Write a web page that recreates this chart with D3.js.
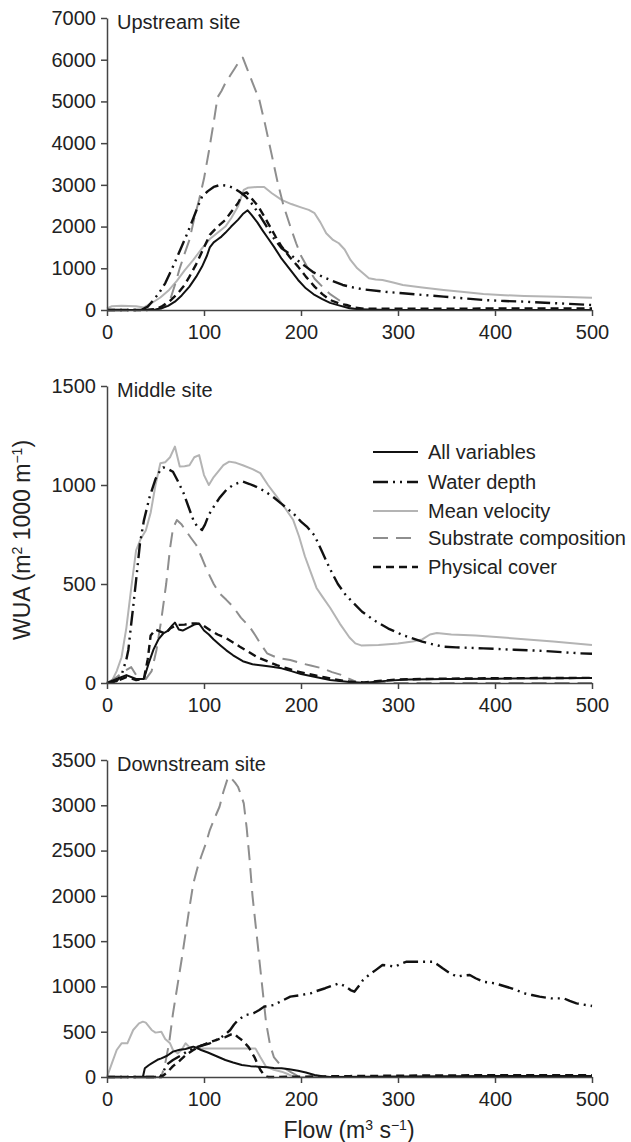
<!DOCTYPE html>
<html><head><meta charset="utf-8">
<script src="https://cdn.jsdelivr.net/npm/d3@7"></script>
<style>
body{margin:0;background:#fff}
svg text{font-family:"Liberation Sans",Arial,Helvetica,sans-serif;fill:#222}
</style>
</head><body><svg id="c" width="631" height="1142"></svg>
<script>
// ---------- tick labels / categories ----------
const flowTicks = [0,100,200,300,400,500];
const upTicks = [0,1000,2000,3000,4000,5000,6000,7000];
const midTicks = [0,500,1000,1500];
const downTicks = [0,500,1000,1500,2000,2500,3000,3500];
const seriesNames = ["All variables","Water depth","Mean velocity","Substrate composition","Physical cover"];
const panelTitles = ["Upstream site","Middle site","Downstream site"];

// ---------- Upstream site: [flow, WUA] ----------
const upAll = [[0,0],[40,0],[50,10],[56,40],[63,100],[70,200],[77,350],[85,560],[92,800],[98,1040],[103,1300],[106,1500],[110,1620],[114,1690],[118,1760],[122,1850],[128,2000],[135,2160],[140,2300],[145,2390],[149,2280],[155,2100],[160,1920],[166,1720],[172,1520],[180,1230],[189,960],[197,720],[205,520],[214,360],[222,260],[230,170],[239,110],[250,40],[260,15],[280,5],[300,0],[500,0]];
const upWater = [[0,0],[35,0],[42,80],[48,240],[54,420],[60,640],[68,1040],[77,1520],[83,1850],[89,2200],[94,2500],[98,2720],[104,2850],[110,2950],[117,3000],[124,2980],[131,2920],[137,2830],[143,2720],[150,2530],[156,2320],[164,2020],[172,1720],[180,1480],[189,1330],[197,1180],[205,1040],[213,900],[222,800],[232,700],[243,600],[254,540],[264,496],[285,440],[305,400],[326,360],[347,320],[368,280],[388,240],[410,215],[430,200],[465,160],[500,120]];
const upVel = [[0,40],[5,90],[15,100],[30,90],[38,60],[45,150],[55,300],[64,480],[72,700],[80,950],[89,1200],[97,1450],[106,1700],[114,1850],[122,2000],[128,2200],[135,2480],[141,2880],[145,2930],[155,2950],[162,2950],[170,2800],[180,2640],[190,2540],[200,2460],[208,2400],[214,2320],[220,2100],[226,1840],[233,1680],[239,1600],[245,1450],[251,1200],[258,1000],[264,880],[270,760],[277,730],[284,720],[295,660],[305,600],[325,540],[347,480],[368,430],[388,384],[410,355],[430,336],[465,315],[500,296]];
const upSub = [[0,0],[50,0],[56,30],[60,100],[65,240],[70,600],[75,1000],[80,1350],[85,1680],[90,2200],[95,2650],[100,3150],[105,3800],[110,4500],[114,5100],[118,5250],[122,5440],[127,5620],[132,5800],[136,5950],[140,6050],[145,5750],[150,5450],[157,5040],[163,4450],[170,3700],[176,3050],[182,2500],[189,2000],[195,1600],[200,1300],[206,1050],[214,750],[222,560],[230,380],[239,240],[246,120],[252,40],[260,10],[280,0],[500,0]];
const upCover = [[0,0],[40,0],[50,20],[56,80],[64,200],[73,400],[80,600],[85,800],[92,1100],[98,1400],[106,1800],[114,2000],[122,2160],[128,2350],[135,2560],[140,2780],[144,2820],[150,2650],[156,2480],[162,2250],[168,2000],[174,1750],[180,1520],[188,1280],[197,1040],[205,800],[214,560],[222,380],[230,240],[240,150],[247,120],[255,60],[265,30],[300,30],[400,35],[500,40]];

// ---------- Middle site ----------
const midAll = [[0,0],[10,20],[20,40],[30,20],[38,20],[43,100],[48,170],[53,220],[58,250],[63,265],[67,290],[70,305],[74,270],[78,265],[84,280],[90,295],[95,300],[100,265],[105,245],[110,220],[117,190],[123,165],[130,140],[140,110],[150,95],[160,88],[170,82],[180,74],[190,60],[200,45],[210,35],[220,25],[230,15],[240,10],[250,5],[262,0],[275,5],[290,12],[310,18],[350,20],[400,22],[500,25]];
const midWater = [[0,0],[10,10],[15,40],[20,120],[22,167],[25,300],[27,385],[30,520],[34,705],[38,820],[44,941],[50,1030],[55,1076],[58,1089],[63,1080],[68,1067],[73,1020],[79,958],[84,890],[89,823],[93,790],[98,773],[101,800],[105,850],[110,890],[116,935],[123,975],[130,1000],[135,1010],[140,1017],[147,1005],[154,991],[162,970],[171,941],[180,905],[186,880],[192,857],[200,815],[206,790],[214,745],[222,660],[230,575],[238,500],[246,445],[255,400],[263,360],[275,318],[290,275],[305,242],[315,225],[325,209],[336,195],[346,184],[360,180],[388,175],[420,168],[450,162],[487,150],[500,148]];
const midVel = [[0,0],[5,10],[10,60],[15,130],[20,280],[25,480],[30,670],[35,730],[40,770],[45,860],[50,1000],[55,1110],[60,1115],[65,1140],[70,1194],[75,1094],[80,1095],[85,1100],[90,1140],[95,1151],[100,1050],[105,1000],[110,1040],[115,1070],[120,1100],[126,1118],[133,1112],[140,1100],[150,1080],[158,1060],[166,1000],[175,941],[184,880],[192,823],[198,740],[204,640],[210,560],[216,480],[222,436],[230,380],[240,300],[250,230],[256,200],[262,190],[280,192],[300,200],[315,210],[325,220],[333,245],[340,252],[355,245],[380,240],[420,225],[460,210],[500,192]];
const midSub = [[0,0],[10,30],[18,60],[25,80],[30,40],[40,20],[46,60],[51,167],[56,320],[61,500],[65,680],[68,780],[72,823],[77,800],[82,764],[87,730],[92,697],[98,630],[103,570],[110,500],[116,453],[123,420],[130,385],[138,330],[147,284],[153,240],[158,200],[165,150],[175,128],[189,116],[200,100],[210,88],[222,74],[232,55],[242,40],[250,20],[257,5],[270,0],[500,0]];
const midCover = [[0,0],[10,10],[20,30],[30,15],[38,20],[42,120],[45,240],[50,270],[55,260],[60,250],[65,275],[72,293],[80,295],[86,300],[92,301],[98,295],[106,268],[114,245],[123,226],[130,205],[137,183],[145,160],[155,130],[165,110],[175,90],[185,75],[195,60],[205,48],[215,38],[225,28],[235,18],[245,10],[255,5],[265,3],[280,10],[300,18],[350,22],[400,24],[500,26]];

// ---------- Downstream site ----------
const downAll = [[0,0],[37,0],[39,96],[43,130],[46,151],[52,190],[56,206],[62,235],[68,280],[75,300],[81,310],[86,325],[89,335],[93,320],[97,298],[104,270],[110,243],[116,215],[122,188],[130,160],[139,132],[148,120],[156,114],[165,108],[172,100],[180,96],[188,85],[197,70],[205,50],[214,22],[222,8],[230,0],[300,5],[400,10],[500,10]];
const downWater = [[0,0],[55,0],[58,60],[62,140],[68,188],[77,243],[83,285],[89,316],[97,345],[106,372],[116,427],[122,470],[127,519],[131,580],[135,629],[143,684],[151,703],[157,740],[162,777],[172,795],[180,840],[189,887],[200,905],[210,924],[214,942],[225,980],[239,1034],[246,1000],[251,960],[255,942],[260,1010],[264,1071],[270,1126],[277,1180],[284,1236],[290,1230],[297,1218],[303,1250],[309,1273],[322,1273],[336,1273],[341,1240],[346,1200],[353,1150],[361,1108],[367,1120],[374,1126],[380,1090],[388,1052],[400,1034],[409,1005],[417,979],[424,950],[430,924],[438,905],[446,887],[458,868],[471,868],[477,840],[484,813],[491,800],[500,784]];
const downVel = [[0,0],[5,150],[10,298],[15,372],[21,372],[27,519],[33,592],[37,611],[40,600],[46,519],[50,490],[56,500],[60,420],[65,372],[68,298],[73,261],[77,300],[81,372],[85,330],[90,316],[95,316],[153,316],[158,220],[164,114],[172,80],[180,59],[187,30],[193,0],[500,0]];
const downSub = [[0,0],[56,0],[60,150],[64,372],[68,700],[73,1034],[77,1300],[81,1586],[85,1870],[89,2138],[93,2300],[97,2432],[102,2580],[106,2727],[111,2860],[116,2984],[120,3150],[125,3316],[128,3300],[132,3250],[135,3205],[138,3120],[141,3021],[144,2750],[147,2400],[150,2000],[153,1700],[156,1400],[160,1000],[164,600],[168,360],[172,220],[178,140],[184,90],[190,50],[196,15],[202,0],[500,0]];
const downCover = [[0,0],[56,0],[62,50],[68,120],[75,180],[82,250],[89,298],[96,340],[103,372],[110,400],[116,420],[122,440],[128,470],[131,480],[135,440],[140,400],[146,330],[152,220],[158,80],[162,20],[166,0],[250,10],[300,15],[400,20],[500,20]];

// ---------- drawing ----------
const svg = d3.select("#c");
const styles = [
  {stroke:"#111", width:2, dash:null},
  {stroke:"#111", width:2.4, dash:"15,5,2,5,2,5"},
  {stroke:"#b4b4b4", width:2, dash:null},
  {stroke:"#8e8e8e", width:2, dash:"15,8"},
  {stroke:"#111", width:2.4, dash:"8,5"}
];
const drawOrder = [2,3,0,4,1];
const x = d3.scaleLinear().domain([0,500]).range([107,592]);

const panels = [
  {title:panelTitles[0], ticks:upTicks, max:7000, y0:310, y1:18, series:[upAll,upWater,upVel,upSub,upCover]},
  {title:panelTitles[1], ticks:midTicks, max:1500, y0:683, y1:386, series:[midAll,midWater,midVel,midSub,midCover]},
  {title:panelTitles[2], ticks:downTicks, max:3500, y0:1077, y1:760, series:[downAll,downWater,downVel,downSub,downCover]}
];

panels.forEach(p => {
  const y = d3.scaleLinear().domain([0,p.max]).range([p.y0,p.y1]);
  const g = svg.append("g");
  // series
  drawOrder.forEach(i => {
    const s = styles[i];
    g.append("path").datum(p.series[i])
      .attr("fill","none").attr("stroke",s.stroke).attr("stroke-width",s.width)
      .attr("stroke-dasharray",s.dash).attr("stroke-linejoin","round")
      .attr("d", d3.line().x(d=>x(d[0])).y(d=>y(d[1])));
  });
  // y axis
  const ya = g.append("g").attr("transform","translate(107,0)")
    .call(d3.axisLeft(y).tickValues(p.ticks).tickFormat(d3.format("d")).tickSize(6).tickPadding(5).tickSizeOuter(0));
  // x axis
  const xa = g.append("g").attr("transform",`translate(0,${p.y0})`)
    .call(d3.axisBottom(x).tickValues(flowTicks).tickFormat(d3.format("d")).tickSize(6).tickPadding(9).tickSizeOuter(0));
  [ya,xa].forEach(a=>{
    a.select(".domain").attr("stroke","#444").attr("stroke-width",1.5);
    a.selectAll(".tick line").attr("stroke","#444").attr("stroke-width",1.5);
    a.selectAll("text").attr("font-size",20).attr("fill","#222").attr("font-family","Liberation Sans, Arial, sans-serif");
  });
  g.append("text").attr("x",117).attr("y",p.y1+11).attr("font-size",20).text(p.title);
});

// legend (middle panel)
const legY = [452,482,511,538,567];
seriesNames.forEach((n,i)=>{
  const s = styles[i];
  svg.append("line").attr("x1",373).attr("x2",418).attr("y1",legY[i]).attr("y2",legY[i])
    .attr("stroke",s.stroke).attr("stroke-width",s.width).attr("stroke-dasharray",s.dash);
  svg.append("text").attr("x",428).attr("y",legY[i]+7).attr("font-size",20).text(n);
});

// axis titles
const xt = svg.append("text").attr("x",349).attr("y",1138).attr("text-anchor","middle").attr("font-size",23);
xt.append("tspan").text("Flow (m");
xt.append("tspan").attr("font-size",14).attr("dy",-8).text("3");
xt.append("tspan").attr("dy",8).text(" s");
xt.append("tspan").attr("font-size",14).attr("dy",-8).text("−1");
xt.append("tspan").attr("dy",8).text(")");

const yt = svg.append("text").attr("transform","translate(30,540) rotate(-90)").attr("text-anchor","middle").attr("font-size",23);
yt.append("tspan").text("WUA (m");
yt.append("tspan").attr("font-size",14).attr("dy",-8).text("2");
yt.append("tspan").attr("dy",8).text(" 1000 m");
yt.append("tspan").attr("font-size",14).attr("dy",-8).text("−1");
yt.append("tspan").attr("dy",8).text(")");
</script>
</body></html>
